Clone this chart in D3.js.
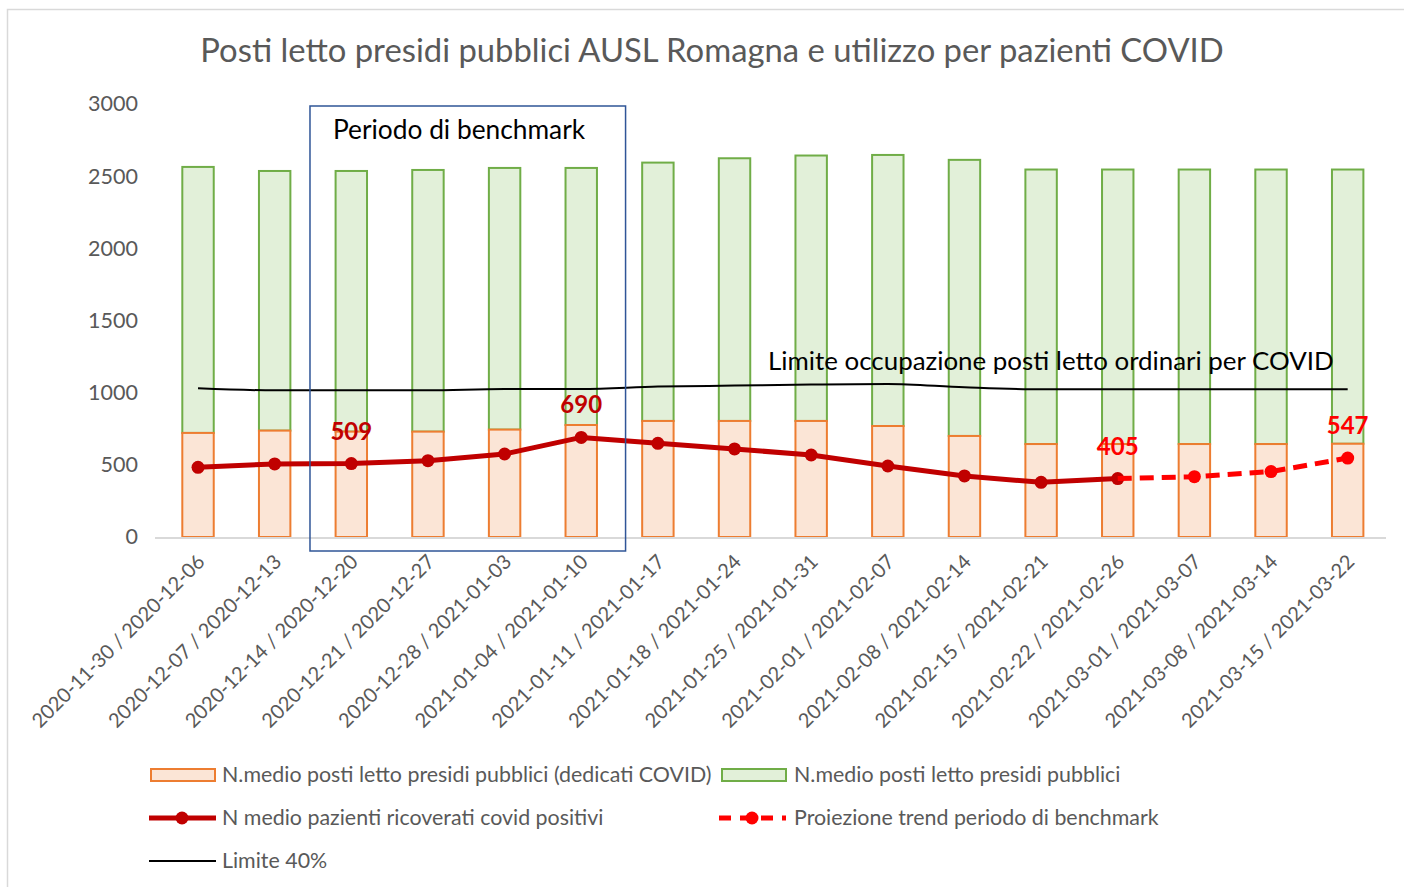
<!DOCTYPE html>
<html>
<head>
<meta charset="utf-8">
<script src="https://cdn.jsdelivr.net/npm/d3@7"></script>
<style>
  body { margin: 0; background: #fff; }
  svg { font-family: Lato, "Open Sans", sans-serif; }
</style>
</head>
<body>
<script>
// Weeks (categories)
const weeks = [
    "2020-11-30 / 2020-12-06", "2020-12-07 / 2020-12-13", "2020-12-14 / 2020-12-20",
    "2020-12-21 / 2020-12-27", "2020-12-28 / 2021-01-03", "2021-01-04 / 2021-01-10",
    "2021-01-11 / 2021-01-17", "2021-01-18 / 2021-01-24", "2021-01-25 / 2021-01-31",
    "2021-02-01 / 2021-02-07", "2021-02-08 / 2021-02-14", "2021-02-15 / 2021-02-21",
    "2021-02-22 / 2021-02-26", "2021-03-01 / 2021-03-07", "2021-03-08 / 2021-03-14",
    "2021-03-15 / 2021-03-22"
];

// N.medio posti letto presidi pubblici (dedicati COVID)
const covidBeds = [721, 737, 730, 730, 744, 776, 804, 804, 804, 769, 700, 644, 644, 644, 644, 646];
// N.medio posti letto presidi pubblici (total)
const totalBeds = [2564, 2536, 2536, 2543, 2557, 2557, 2594, 2624, 2643, 2647, 2613, 2546, 2546, 2546, 2546, 2546];
// N medio pazienti ricoverati covid positivi (first 13 weeks)
const patients = [483, 506, 509, 529, 575, 690, 649, 610, 568, 492, 423, 379, 405];
// Proiezione trend periodo di benchmark (weeks 13-16)
const projection = [405, 418, 453, 547];
// Limite 40%
const limit40 = [1030, 1016, 1016, 1017, 1025, 1025, 1042, 1049, 1056, 1060, 1037, 1023, 1023, 1023, 1023, 1023];

const yTicks = [0, 500, 1000, 1500, 2000, 2500, 3000];

const width = 1404;
const height = 887;
const textGray = "#595959";

const svg = d3.select("body").append("svg")
    .attr("width", width)
    .attr("height", height);

// chart area border
svg.append("rect")
    .attr("x", 7.5).attr("y", 9.5)
    .attr("width", width + 10).attr("height", height + 10)
    .attr("fill", "none")
    .attr("stroke", "#d9d9d9")
    .attr("stroke-width", 1.5);

const x = d3.scalePoint()
    .domain(weeks)
    .range([159.7, 1386])
    .padding(0.5);
const step = x.step();
const barW = step * 0.41;

const y = d3.scaleLinear()
    .domain([0, 3000])
    .range([537, 104]);

// Title
svg.append("text")
    .attr("x", 712)
    .attr("y", 62)
    .attr("text-anchor", "middle")
    .attr("font-size", 32.8)
    .attr("fill", textGray)
    .text("Posti letto presidi pubblici AUSL Romagna e utilizzo per pazienti COVID");

// Y axis labels (no line)
const yAxis = d3.axisLeft(y).tickValues(yTicks).tickFormat(d3.format("d")).tickSize(0).tickPadding(0);
const yAxisGroup = svg.append("g")
    .attr("transform", "translate(138,0)")
    .call(yAxis);
yAxisGroup.select(".domain").remove();
yAxisGroup.selectAll("text")
    .attr("font-family", "Lato, sans-serif")
    .attr("font-size", 21.5)
    .attr("fill", textGray);

// Bars: green part (from covid beds to total)
svg.selectAll(".bar-total")
    .data(weeks)
    .enter()
    .append("rect")
    .attr("class", "bar-total")
    .attr("x", d => x(d) - barW / 2)
    .attr("y", (d, i) => y(totalBeds[i]))
    .attr("width", barW)
    .attr("height", (d, i) => y(covidBeds[i]) - y(totalBeds[i]))
    .attr("fill", "#E2F0D9")
    .attr("stroke", "#70AD47")
    .attr("stroke-width", 2);

// Bars: orange part (covid beds)
svg.selectAll(".bar-covid")
    .data(weeks)
    .enter()
    .append("rect")
    .attr("class", "bar-covid")
    .attr("x", d => x(d) - barW / 2)
    .attr("y", (d, i) => y(covidBeds[i]))
    .attr("width", barW)
    .attr("height", (d, i) => y(0) - y(covidBeds[i]))
    .attr("fill", "#FBE5D6")
    .attr("stroke", "#ED7D31")
    .attr("stroke-width", 2);

// X axis line
svg.append("line")
    .attr("x1", 155).attr("x2", 1386)
    .attr("y1", y(0) + 1).attr("y2", y(0) + 1)
    .attr("stroke", "#d9d9d9")
    .attr("stroke-width", 2);

// X labels, rotated
svg.selectAll(".xlab")
    .data(weeks)
    .enter()
    .append("text")
    .attr("class", "xlab")
    .attr("transform", d => `translate(${x(d) + 8}, ${y(0) + 26}) rotate(-45)`)
    .attr("text-anchor", "end")
    .attr("font-size", 20)
    .attr("fill", textGray)
    .text(d => d);

// Limite 40% line (smoothed)
const limitLine = d3.line()
    .x((d, i) => x(weeks[i]))
    .y(d => y(d))
    .curve(d3.curveMonotoneX);

svg.append("path")
    .datum(limit40)
    .attr("d", limitLine)
    .attr("fill", "none")
    .attr("stroke", "#000")
    .attr("stroke-width", 2);

svg.append("text")
    .attr("x", 768)
    .attr("y", 370)
    .attr("font-size", 25.9)
    .attr("fill", "#000")
    .text("Limite occupazione posti letto ordinari per COVID");

// Patients line
const patLine = d3.line()
    .x((d, i) => x(weeks[i]))
    .y(d => y(d));

svg.append("path")
    .datum(patients)
    .attr("d", patLine)
    .attr("fill", "none")
    .attr("stroke", "#C00000")
    .attr("stroke-width", 5)
    .attr("stroke-linejoin", "round");

svg.selectAll(".pat-dot")
    .data(patients)
    .enter()
    .append("circle")
    .attr("class", "pat-dot")
    .attr("cx", (d, i) => x(weeks[i]))
    .attr("cy", d => y(d))
    .attr("r", 6.5)
    .attr("fill", "#C00000");

// Projection (dashed), starts at week 13
const projOffset = patients.length - 1;
const projLine = d3.line()
    .x((d, i) => x(weeks[i + projOffset]))
    .y(d => y(d));

svg.append("path")
    .datum(projection)
    .attr("d", projLine)
    .attr("fill", "none")
    .attr("stroke", "#FF0000")
    .attr("stroke-width", 5)
    .attr("stroke-dasharray", "14,8");

svg.selectAll(".proj-dot")
    .data(projection.slice(1))
    .enter()
    .append("circle")
    .attr("class", "proj-dot")
    .attr("cx", (d, i) => x(weeks[i + 1 + projOffset]))
    .attr("cy", d => y(d))
    .attr("r", 6.5)
    .attr("fill", "#FF0000");

// Value labels
const valueLabels = [
    { i: 2, v: patients[2], color: "#C00000" },
    { i: 5, v: patients[5], color: "#C00000" },
    { i: 12, v: patients[12], color: "#FF0000" },
    { i: 15, v: projection[3], color: "#FF0000" }
];
svg.selectAll(".vlab")
    .data(valueLabels)
    .enter()
    .append("text")
    .attr("class", "vlab")
    .attr("x", d => x(weeks[d.i]))
    .attr("y", d => y(d.v) - 24)
    .attr("text-anchor", "middle")
    .attr("font-size", 24)
    .attr("font-weight", "bold")
    .attr("fill", d => d.color)
    .text(d => d.v);

// Benchmark box
const boxLeft = x(weeks[2]) - step / 2 - 3;
const boxRight = x(weeks[5]) + step / 2 + 6;
svg.append("rect")
    .attr("x", boxLeft)
    .attr("y", 106)
    .attr("width", boxRight - boxLeft)
    .attr("height", 445)
    .attr("fill", "none")
    .attr("stroke", "#2F5597")
    .attr("stroke-width", 1.5);

svg.append("text")
    .attr("x", 333)
    .attr("y", 139)
    .attr("font-size", 26.3)
    .attr("fill", "#000")
    .text("Periodo di benchmark");

// Legend
const legend = svg.append("g").attr("font-size", 21.4).attr("fill", textGray);

function swatch(xp, yp, fill, stroke) {
    legend.append("rect")
        .attr("x", xp).attr("y", yp - 6)
        .attr("width", 64).attr("height", 12)
        .attr("fill", fill).attr("stroke", stroke).attr("stroke-width", 2);
}
function legText(xp, yp, t) {
    legend.append("text").attr("x", xp).attr("y", yp + 7).text(t);
}

swatch(151, 775, "#FBE5D6", "#ED7D31");
legText(222, 775, "N.medio posti letto presidi pubblici (dedicati COVID)");
swatch(722, 775, "#E2F0D9", "#70AD47");
legText(794, 775, "N.medio posti letto presidi pubblici");

legend.append("line")
    .attr("x1", 149).attr("x2", 216).attr("y1", 818).attr("y2", 818)
    .attr("stroke", "#C00000").attr("stroke-width", 5);
legend.append("circle").attr("cx", 182).attr("cy", 818).attr("r", 6.5).attr("fill", "#C00000");
legText(222, 818, "N medio pazienti ricoverati covid positivi");

legend.append("line")
    .attr("x1", 719).attr("x2", 786).attr("y1", 818).attr("y2", 818)
    .attr("stroke", "#FF0000").attr("stroke-width", 5)
    .attr("stroke-dasharray", "12,9");
legend.append("circle").attr("cx", 752).attr("cy", 818).attr("r", 6.5).attr("fill", "#FF0000");
legText(794, 818, "Proiezione trend periodo di benchmark");

legend.append("line")
    .attr("x1", 149).attr("x2", 216).attr("y1", 861).attr("y2", 861)
    .attr("stroke", "#000").attr("stroke-width", 2);
legText(222, 861, "Limite 40%");
</script>
</body>
</html>
